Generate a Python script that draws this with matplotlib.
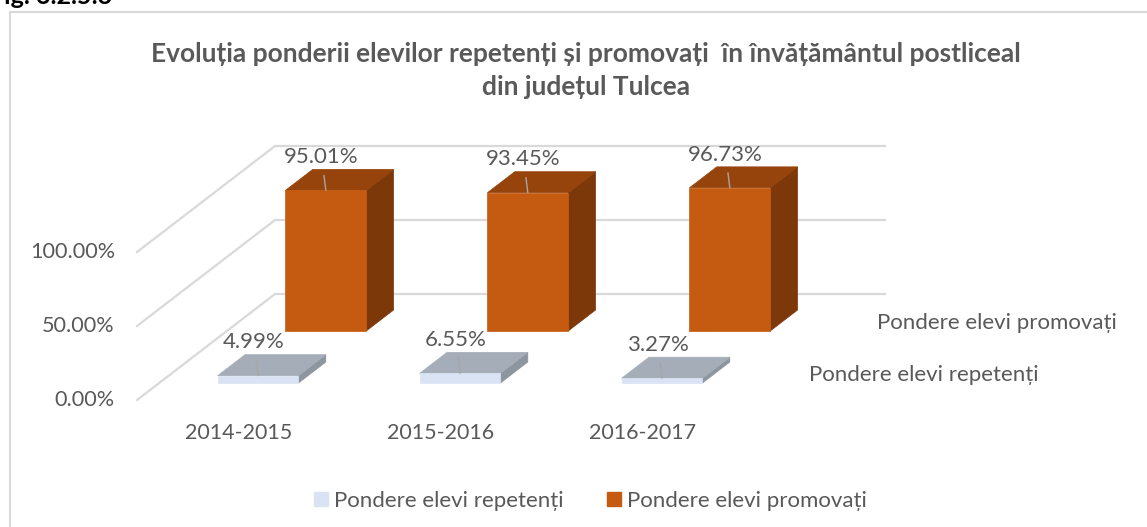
import numpy as np
import matplotlib.pyplot as plt
from matplotlib.patches import Polygon
from matplotlib.lines import Line2D

plt.rcParams['font.family'] = ['Lato', 'DejaVu Sans']

ani = ['2014-2015', '2015-2016', '2016-2017']
serii = ['Pondere elevi repetenți', 'Pondere elevi promovați']
repetenti = [4.99, 6.55, 3.27]
promovati = [95.01, 93.45, 96.73]
etichete_y = [0, 50, 100]
titlu = 'Evoluția ponderii elevilor repetenți și promovați  în învățământul postliceal\ndin județul Tulcea'

# culori: fata, capac, lateral
col_rep = ('#DAE3F3', '#A5ADB8', '#8D959F')
col_prom = ('#C55A11', '#96430C', '#7D380A')
text_col = '#595959'
grid_col = '#D9D9D9'

# oblic: adancimea 0..1 pe podea
DX = 138 / 202.0   # unitati categorie
DY = 106 / 1.48    # unitati procent


def proj(x, y, d):
    return x + d * DX, y + d * DY


fig = plt.figure(figsize=(11.47, 5.27), dpi=100)
ax = fig.add_axes([0, 0, 1, 1])
ax.set_xlim(-236 / 202.0, (1147 - 236) / 202.0)
ax.set_ylim((400 - 527) / 1.48, 400 / 1.48)
ax.axis('off')

x_st, x_dr = -0.49, 2.53

# pereti: linii de grila
for v in etichete_y:
    p0 = proj(x_st, v, 0)
    p1 = proj(x_st, v, 1)
    p2 = proj(x_dr, v, 1)
    ax.plot([p0[0], p1[0], p2[0]], [p0[1], p1[1], p2[1]], color=grid_col, lw=1.6, zorder=1)
    ax.text(p0[0] - 0.11, v, '%.2f%%' % v, ha='right', va='center', fontsize=15.6, color=text_col)

for i, a in enumerate(ani):
    ax.text(i + 0.015, -22, a, ha='center', va='center', fontsize=15.5, color=text_col)

latime = 0.4
randuri = [(repetenti, 0.16, col_rep), (promovati, 0.651, col_prom)]
bd = 0.198


def bara(xc, h, d0, cols, z):
    x0, x1 = xc - latime / 2, xc + latime / 2
    fata = [proj(x0, 0, d0), proj(x1, 0, d0), proj(x1, h, d0), proj(x0, h, d0)]
    capac = [proj(x0, h, d0), proj(x1, h, d0), proj(x1, h, d0 + bd), proj(x0, h, d0 + bd)]
    lat = [proj(x1, 0, d0), proj(x1, 0, d0 + bd), proj(x1, h, d0 + bd), proj(x1, h, d0)]
    for pts, c in [(lat, cols[2]), (capac, cols[1]), (fata, cols[0])]:
        ax.add_patch(Polygon(pts, closed=True, facecolor=c, edgecolor=c, lw=0.5, zorder=z))


for vals, d0, cols in reversed(randuri):
    z = 3 if d0 < 0.5 else 2
    for i, v in enumerate(vals):
        bara(i, v, d0, cols, z)
        px, py = proj(i, v, d0)
        ax.annotate('%.2f%%' % v, xy=(px, py), xytext=(-3, 24), textcoords='offset points',
                    ha='center', va='center', fontsize=16, color=text_col, zorder=5,
                    arrowprops=dict(arrowstyle='-', color='#A6A6A6', lw=1, shrinkA=4, shrinkB=0))

# etichete de adancime
for (vals, d0, cols), nume in zip(randuri, serii):
    px, py = proj(x_dr, 0, d0 + bd / 2)
    ax.annotate(nume, xy=(px, py), xytext=(19, -2), textcoords='offset points',
                ha='left', va='center', fontsize=16, color=text_col)

ax.text(586 / 202.0 - 236 / 202.0, (400 - 70.5) / 1.48, titlu, ha='center', va='center',
        fontsize=19, fontweight='bold', color=text_col, linespacing=1.45)

# legenda
h = [Line2D([], [], marker='s', ls='', markersize=10, color=col_rep[0]),
     Line2D([], [], marker='s', ls='', markersize=10, color=col_prom[0])]
fig.legend(h, serii, loc='center', bbox_to_anchor=(590 / 1147, 1 - 501 / 527), ncol=2,
           frameon=False, fontsize=16, labelcolor=text_col, handletextpad=0.25,
           columnspacing=1.9, handlelength=0.7)

# chenar
fig.add_artist(Line2D([10 / 1147, 10 / 1147], [0, 1 - 12 / 527], color=grid_col, lw=1.5))
fig.add_artist(Line2D([10 / 1147, 1], [1 - 12 / 527, 1 - 12 / 527], color=grid_col, lw=1.5))
fig.text(-10 / 1147, 1 - 4 / 527, 'Fig. 6.2.5.3', ha='left', va='baseline', fontsize=18,
         fontweight='bold', color='black')

fig.savefig('out.png', dpi=100)
